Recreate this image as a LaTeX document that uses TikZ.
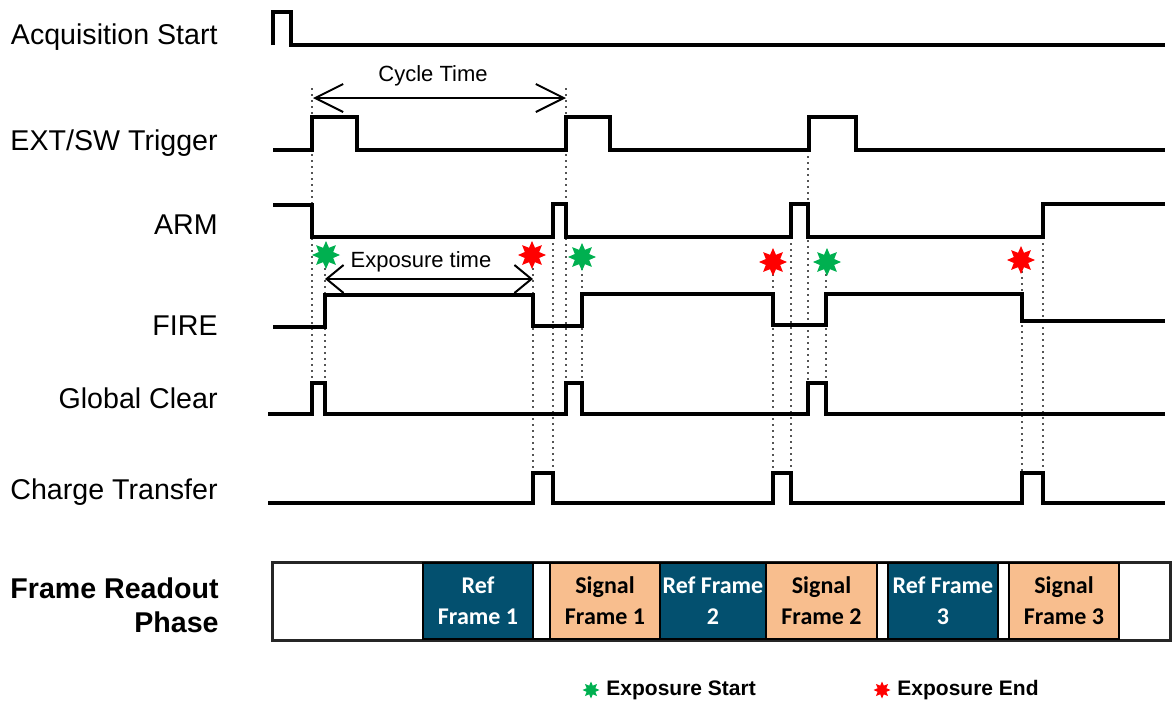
\documentclass[tikz,border=0pt]{standalone}
\usepackage{fontspec}
\setmainfont{Liberation Sans}
\newfontfamily\cellfont{Carlito}
\usepackage{xcolor}
\usepackage{tikz}
\usetikzlibrary{shapes.geometric, arrows.meta, positioning}
\definecolor{timBlue}{HTML}{03506F}
\definecolor{timPeach}{HTML}{F8BE8E}
\definecolor{timGreen}{HTML}{00B050}
\definecolor{timRed}{HTML}{FF0000}
\definecolor{timGuide}{HTML}{555555}
\tikzset{
  tim/wave/.style      = {line width=2pt, line join=miter, draw=black},
  tim/guide/.style     = {draw=timGuide, line width=1.3pt, dash pattern=on 1.2pt off 1.8pt},
  tim/span/.style      = {{Straight Barb[length=14pt,width=14pt]}-{Straight Barb[length=14pt,width=14pt]},
                          line width=1pt, draw=black},
  tim/spanshort/.style = {{Straight Barb[length=8.5pt,width=14pt]}-{Straight Barb[length=8.5pt,width=14pt]},
                          line width=1pt, draw=black},
  tim/label/.style     = {anchor=east, align=right, inner sep=0pt,
                          font=\fontsize{14.3}{17}\selectfont},
  tim/spanlabel/.style = {inner sep=0pt, font=\fontsize{11}{13}\selectfont},
  tim/legend/.style    = {anchor=west, inner sep=0pt, font=\bfseries\fontsize{10.5}{13}\selectfont},
  tim/star/.style      = {star, star points=8, star point ratio=1.8, minimum size=14pt,
                          inner sep=0pt, draw=none},
  tim/expstart/.style  = {tim/star, fill=timGreen},
  tim/expend/.style    = {tim/star, fill=timRed},
  tim/cell/.style      = {draw=black, line width=1.2pt, minimum height=38pt, align=center,
                          inner sep=0pt, font=\cellfont\bfseries\fontsize{12}{15.5}\selectfont},
  tim/ref/.style       = {tim/cell, fill=timBlue, text=white},
  tim/sig/.style       = {tim/cell, fill=timPeach, text=black},
  tim/gap/.style       = {tim/cell, fill=white},
}
\begin{document}
\begin{tikzpicture}[x=0.5pt, y=-0.5pt]
  \useasboundingbox (0,0) rectangle (1173,703);
  % signal names
  \node[tim/label] (lacq) at (218,37)  {Acquisition Start};
  \node[tim/label] (ltrg) at (218,143) {EXT/SW Trigger};
  \node[tim/label] (larm) at (218,225) {ARM};
  \node[tim/label] (lfir) at (218,326) {FIRE};
  \node[tim/label] (lgcl) at (218,398) {Global Clear};
  \node[tim/label] (lctr) at (218,492) {Charge Transfer};
  \node[tim/label, font=\bfseries\fontsize{14.3}{17}\selectfont] (lfrp) at (219,605)
        {Frame Readout\\Phase};
  % dotted timing guides
  \draw[tim/guide] (312,88)  -- (312,383);
  \draw[tim/guide] (325,262) -- (325,383);
  \draw[tim/guide] (533,262) -- (533,473);
  \draw[tim/guide] (553,237) -- (553,473);
  \draw[tim/guide] (566,88)  -- (566,383);
  \draw[tim/guide] (582,262) -- (582,383);
  \draw[tim/guide] (773,268) -- (773,473);
  \draw[tim/guide] (791,237) -- (791,473);
  \draw[tim/guide] (808,150) -- (808,383);
  \draw[tim/guide] (826,268) -- (826,383);
  \draw[tim/guide] (1022,265) -- (1022,473);
  \draw[tim/guide] (1043,237) -- (1043,473);
  % waveforms
  \draw[tim/wave] (273,45) -- (273,12) -- (291,12) -- (291,45) -- (1165,45);
  \draw[tim/wave] (273,150) -- (312,150) -- (312,117) -- (357,117) -- (357,150)
        -- (566,150) -- (566,117) -- (610,117) -- (610,150)
        -- (809,150) -- (809,117) -- (856,117) -- (856,150) -- (1165,150);
  \draw[tim/wave] (273,205) -- (312,205) -- (312,237) -- (553,237) -- (553,204)
        -- (566,204) -- (566,237) -- (791,237) -- (791,204) -- (808,204)
        -- (808,237) -- (1043,237) -- (1043,204) -- (1165,204);
  \draw[tim/wave] (273,327) -- (325,327) -- (325,295) -- (533,295) -- (533,326)
        -- (582,326) -- (582,294) -- (773,294) -- (773,325) -- (826,325)
        -- (826,294) -- (1022,294) -- (1022,321) -- (1165,321);
  \draw[tim/wave] (268,414) -- (312,414) -- (312,383) -- (325,383) -- (325,414)
        -- (566,414) -- (566,383) -- (582,383) -- (582,414)
        -- (808,414) -- (808,383) -- (826,383) -- (826,414) -- (1165,414);
  \draw[tim/wave] (268,503) -- (533,503) -- (533,473) -- (553,473) -- (553,503)
        -- (773,503) -- (773,473) -- (791,473) -- (791,503)
        -- (1022,503) -- (1022,473) -- (1043,473) -- (1043,503) -- (1165,503);
  % cycle and exposure spans
  \coordinate (ctl) at (313,98);
  \coordinate (ctr) at (566,98);
  \draw[tim/span] (ctl) -- (ctr);
  \node[tim/spanlabel] (ctime) at (433,76) {Cycle Time};
  \coordinate (etl) at (325,279);
  \coordinate (etr) at (533,279);
  \draw[tim/spanshort] (etl) -- (etr);
  \node[tim/spanlabel] (etime) at (421,262) {Exposure time};
  % exposure markers
  \node[tim/expstart] (es1) at (326,255) {};
  \node[tim/expend]   (ee1) at (532,255) {};
  \node[tim/expstart] (es2) at (582,257) {};
  \node[tim/expend]   (ee2) at (773,262) {};
  \node[tim/expstart] (es3) at (827,262) {};
  \node[tim/expend]   (ee3) at (1021,260) {};
  % readout phase bar
  \node[draw=black!85, line width=1.5pt, minimum width=449pt, minimum height=39pt,
        inner sep=0pt] (bar) at (721,601) {};
  \node[tim/ref, minimum width=55pt]   (ref1) at (478,601)    {Ref\\Frame 1};
  \node[tim/gap, minimum width=8.5pt]  (gap1) at (541.5,601)  {};
  \node[tim/sig, minimum width=55pt]   (sig1) at (605,601)    {Signal\\Frame 1};
  \node[tim/ref, minimum width=53pt]   (ref2) at (713,601)    {Ref Frame\\2};
  \node[tim/sig, minimum width=55.5pt] (sig2) at (821.5,601)  {Signal\\Frame 2};
  \node[tim/gap, minimum width=5.5pt]  (gap2) at (882.5,601)  {};
  \node[tim/ref, minimum width=55pt]   (ref3) at (943,601)    {Ref Frame\\3};
  \node[tim/gap, minimum width=5.5pt]  (gap3) at (1003.5,601) {};
  \node[tim/sig, minimum width=55pt]   (sig3) at (1064,601)   {Signal\\Frame 3};
  % legend
  \node[tim/expstart, minimum size=8.5pt] (lgs) at (591,690) {};
  \node[tim/legend] (lgst) at (606,690) {Exposure Start};
  \node[tim/expend, minimum size=8.5pt] (lge) at (882,690) {};
  \node[tim/legend] (lget) at (897,690) {Exposure End};
\end{tikzpicture}
\end{document}
